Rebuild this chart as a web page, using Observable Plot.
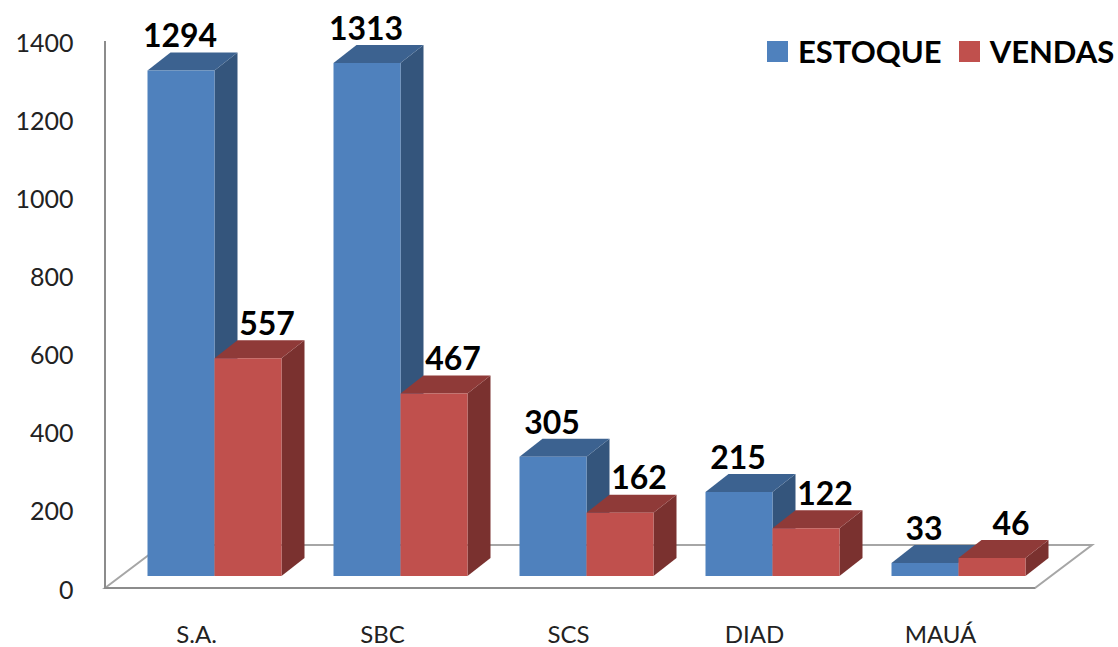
<!DOCTYPE html>
<html>
<head>
<meta charset="utf-8">
<script src="https://cdn.jsdelivr.net/npm/d3@7"></script>
<script src="https://cdn.jsdelivr.net/npm/@observablehq/plot@0.6"></script>
<style>
html,body{margin:0;padding:0;background:#fff}
#wrap{position:relative;width:1118px;height:647px;overflow:hidden}
#legend{position:absolute;left:767px;top:32px;display:flex;align-items:center;font:700 31px Lato,sans-serif;color:#000;white-space:nowrap}
#legend i{display:inline-block;width:21px;height:21px;margin-right:10px}
#legend span{margin-right:17px}
</style>
</head>
<body>
<div id="wrap"></div>
<script>
const categories = ["S.A.", "SBC", "SCS", "DIAD", "MAUÁ"];
const seriesNames = ["ESTOQUE", "VENDAS"];
const estoque = [1294, 1313, 305, 215, 33];
const vendas = [557, 467, 162, 122, 46];
const yTicks = [0, 200, 400, 600, 800, 1000, 1200, 1400];
const faceColors = ["#4f81bd", "#c0504d"];
const topColors = ["#3c6290", "#8f3a38"];
const sideColors = ["#34557c", "#7a312f"];

const rows = categories.flatMap((c, i) => [
  {category: c, series: seriesNames[0], value: estoque[i]},
  {category: c, series: seriesNames[1], value: vendas[i]}
]);

const shiftX = 16.5, shiftY = -12;      // bars stand inside the floor
const depthX = 23, depthY = -18;        // bar extrusion
const floorX = 57, floorY = -43;        // floor depth

function bars3d(index, scales, values) {
  const g = d3.create("svg:g").attr("transform", `translate(${shiftX},${shiftY})`);
  const w = scales.x.bandwidth();
  for (const i of index) {
    const s = seriesNames.indexOf(rows[i].series);
    const x0 = values.x[i], x1 = x0 + w;
    const yt = values.y2[i], yb = values.y1[i];
    const poly = (pts, fill) => g.append("polygon")
      .attr("points", pts.map(p => p.join(",")).join(" "))
      .attr("fill", fill);
    poly([[x1, yt], [x1 + depthX, yt + depthY], [x1 + depthX, yb + depthY], [x1, yb]], sideColors[s]);
    poly([[x0, yt], [x0 + depthX, yt + depthY], [x1 + depthX, yt + depthY], [x1, yt]], topColors[s]);
    poly([[x0, yt], [x1, yt], [x1, yb], [x0, yb]], faceColors[s]);
  }
  return g.node();
}

function floorMark(index, scales, values, d) {
  const y0 = scales.y(0), xl = d.marginLeft, xr = d.width - d.marginRight;
  const g = d3.create("svg:g");
  g.append("path")
    .attr("d", `M${xl},${y0}L${xl + floorX},${y0 + floorY}L${xr + floorX},${y0 + floorY}L${xr},${y0}Z`)
    .attr("fill", "none").attr("stroke", "#a6a6a6").attr("stroke-width", 2);
  g.append("path")
    .attr("d", `M${xl},${scales.y(1400)}V${y0}H${xr}`)
    .attr("fill", "none").attr("stroke", "#8c8c8c").attr("stroke-width", 2);
  return g.node();
}

const labelOf = (name, dx) => Plot.text(rows.filter(r => r.series === name), {
  fx: "category", x: "series", y: "value", text: d => String(d.value),
  dx, dy: -46, fontSize: 32, fontWeight: 700, fill: "#000"
});

const chart = Plot.plot({
  width: 1118, height: 647,
  marginTop: 41, marginBottom: 59, marginLeft: 104, marginRight: 83,
  style: {fontFamily: "Lato, sans-serif", background: "#fff"},
  fx: {domain: categories, padding: 0, axis: null, label: null},
  x: {domain: seriesNames, paddingInner: 0, paddingOuter: 0.378, axis: null, label: null},
  y: {domain: [0, 1400], axis: null, label: null},
  marks: [
    Plot.frame({facet: "super", render: floorMark}),
    Plot.axisY({ticks: yTicks, tickFormat: "d", tickSize: 0, tickPadding: 32, fontSize: 25, dy: 2, label: null, fill: "#222"}),
    Plot.axisFx({anchor: "bottom", tickSize: 0, tickPadding: 37, fontSize: 24, dx: -2, label: null, fill: "#222"}),
    Plot.barY(rows, {fx: "category", x: "series", y: "value", fill: "series", render: bars3d}),
    labelOf(seriesNames[0], 15),
    labelOf(seriesNames[1], 35)
  ]
});

const wrap = document.getElementById("wrap");
wrap.appendChild(chart);
const legend = d3.select(wrap).append("div").attr("id", "legend");
seriesNames.forEach((n, i) => {
  legend.append("i").style("background", faceColors[i]);
  legend.append("span").text(n);
});
</script>
</body>
</html>
